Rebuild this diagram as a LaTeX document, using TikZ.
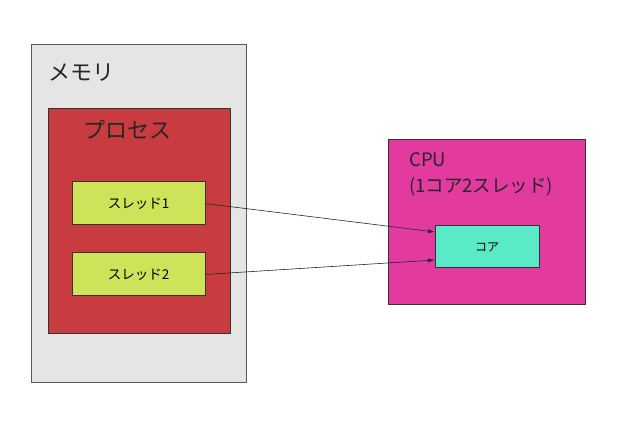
\documentclass[tikz,border=0pt]{standalone}
\usepackage{fontspec}
\setmainfont{Noto Sans CJK JP}
\usetikzlibrary{arrows.meta}
\definecolor{memfill}{HTML}{E5E5E5}
\definecolor{procfill}{HTML}{C83C40}
\definecolor{thrfill}{HTML}{CEE35A}
\definecolor{cpufill}{HTML}{E23A9E}
\definecolor{corefill}{HTML}{5AEAC8}
\tikzset{
  box/.style={draw=black!80, line width=1pt, inner sep=0pt, outer sep=0pt},
  lbl/.style={anchor=west, inner sep=0pt, text=black!85},
  conn/.style={draw=black!85, line width=0.6pt, -{Latex[length=7pt,width=4pt]}}
}
\begin{document}
\begin{tikzpicture}[x=1pt,y=-1pt]
\useasboundingbox (0,0) rectangle (623,443);
\node[box, draw=black!65, fill=memfill, minimum width=215pt, minimum height=337pt, anchor=north west] (mem) at (31,45) {};
\node[lbl, font=\fontsize{22}{26}\selectfont] (memlbl) at (48,73) {メモリ};
\node[box, fill=procfill, minimum width=182pt, minimum height=224pt, anchor=north west] (proc) at (48,109) {};
\node[lbl, font=\fontsize{22}{26}\selectfont] (proclbl) at (83,130) {プロセス};
\node[box, fill=thrfill, minimum width=133pt, minimum height=43pt, anchor=north west, font=\fontsize{13.5}{16}\selectfont] (t1) at (72,182) {スレッド1};
\node[box, fill=thrfill, minimum width=133pt, minimum height=43pt, anchor=north west, font=\fontsize{13.5}{16}\selectfont] (t2) at (72,253) {スレッド2};
\node[box, fill=cpufill, minimum width=197pt, minimum height=164pt, anchor=north west] (cpu) at (388,140) {};
\node[lbl, font=\fontsize{18.5}{22}\selectfont] (cpul1) at (409,160) {CPU};
\node[lbl, font=\fontsize{18.5}{22}\selectfont] (cpul2) at (409,187) {(1コア2スレッド)};
\node[box, fill=corefill, minimum width=104pt, minimum height=42pt, anchor=north west, font=\fontsize{12}{15}\selectfont] (core) at (435,226) {コア};
\draw[conn] (t1.east) -- ([yshift=15pt]core.west);
\draw[conn] (t2.east) -- ([yshift=-13pt]core.west);
\end{tikzpicture}
\end{document}
